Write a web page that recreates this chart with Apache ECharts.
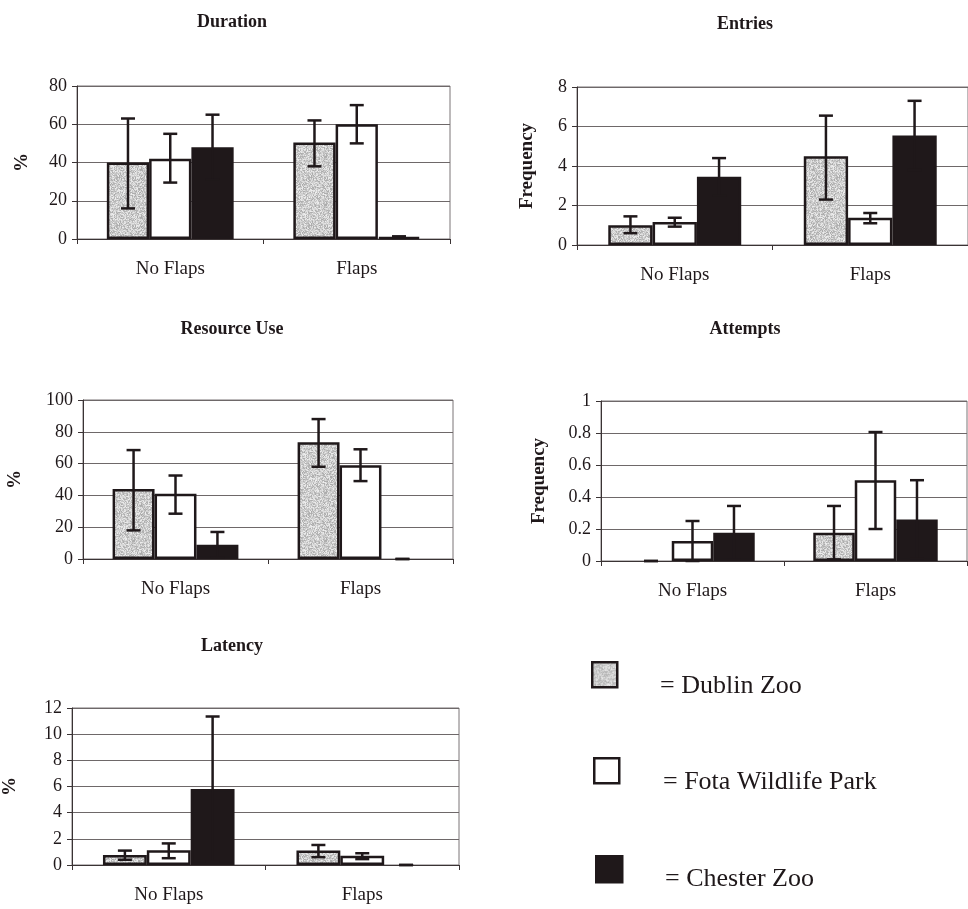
<!DOCTYPE html>
<html>
<head>
<meta charset="utf-8">
<script src="https://cdn.jsdelivr.net/npm/echarts@6/dist/echarts.min.js"></script>
<style>
  html, body { margin: 0; padding: 0; background: #fff; }
  #main { width: 968px; height: 909px; }
</style>
</head>
<body>
<div id="main"></div>
<script>
// categories and groups
var categories = ['No Flaps', 'Flaps'];
var zoos = ['Dublin Zoo', 'Fota Wildlife Park', 'Chester Zoo'];

// one row per zoo: [No Flaps, Flaps]
var durationMean = [[40, 50.5], [42, 60], [48, 1]];
var durationLow  = [[16, 38], [29.5, 50], [31, 0.6]];
var durationHigh = [[63, 62], [55, 70], [65, 1.4]];

var entriesMean = [[1.0, 4.5], [1.17, 1.38], [3.45, 5.55]];
var entriesLow  = [[0.6, 2.3], [0.93, 1.1], [2.5, 3.8]];
var entriesHigh = [[1.45, 6.55], [1.38, 1.62], [4.4, 7.3]];

var resourceMean = [[44, 73.5], [41, 59], [9, 0]];
var resourceLow  = [[18, 58], [28.5, 49], [1, 0]];
var resourceHigh = [[68.5, 88], [52.5, 69], [17, 0]];

var attemptsMean = [[0, 0.177], [0.125, 0.505], [0.177, 0.26]];
var attemptsLow  = [[0, 0.01], [0, 0.2], [0.01, 0.015]];
var attemptsHigh = [[0, 0.344], [0.25, 0.806], [0.344, 0.505]];

var latencyMean = [[0.77, 1.1], [1.12, 0.7], [5.8, 0]];
var latencyLow  = [[0.4, 0.6], [0.52, 0.45], [0.25, 0]];
var latencyHigh = [[1.1, 1.53], [1.65, 0.9], [11.35, 0]];

// tick settings per panel: min, max, step
var durationTicks = [0, 80, 20];
var entriesTicks = [0, 8, 2];
var resourceTicks = [0, 100, 20];
var attemptsTicks = [0, 1, 0.2];
var latencyTicks = [0, 12, 2];

var FONT = '"Liberation Serif", "DejaVu Serif", serif';
var INK = '#1f181a';

// grainy grey fill like the scanned stipple
function stipple() {
    var c = document.createElement('canvas');
    c.width = 48; c.height = 48;
    var ctx = c.getContext('2d');
    var img = ctx.createImageData(48, 48);
    var s = 12345;
    for (var i = 0; i < img.data.length; i += 4) {
        s = (s * 1103515245 + 12345) & 0x7fffffff;
        var g = 170 + (s % 70);
        img.data[i] = g; img.data[i + 1] = g; img.data[i + 2] = g; img.data[i + 3] = 255;
    }
    ctx.putImageData(img, 0, 0);
    return { image: c, repeat: 'repeat' };
}
var grey = stipple();
var fills = [grey, '#ffffff', INK];

var panels = [
    { title: 'Duration', name: '%', mean: durationMean, low: durationLow, high: durationHigh, ticks: durationTicks,
      grid: { left: 77, top: 86, width: 373, height: 153 }, tx: 227, ty: 8, nameGap: 45 },
    { title: 'Entries', name: 'Frequency', mean: entriesMean, low: entriesLow, high: entriesHigh, ticks: entriesTicks,
      grid: { left: 577, top: 87, width: 392, height: 158 }, tx: 740, ty: 10, nameGap: 40 },
    { title: 'Resource Use', name: '%', mean: resourceMean, low: resourceLow, high: resourceHigh, ticks: resourceTicks,
      grid: { left: 83, top: 400, width: 370, height: 159 }, tx: 227, ty: 315, nameGap: 58 },
    { title: 'Attempts', name: 'Frequency', mean: attemptsMean, low: attemptsLow, high: attemptsHigh, ticks: attemptsTicks,
      grid: { left: 601, top: 401, width: 366, height: 160 }, tx: 740, ty: 315, nameGap: 52 },
    { title: 'Latency', name: '%', mean: latencyMean, low: latencyLow, high: latencyHigh, ticks: latencyTicks,
      grid: { left: 71, top: 708, width: 388, height: 157 }, tx: 227, ty: 632, nameGap: 52 }
];

function errorSeries(p, z, low, high) {
    return {
        type: 'custom',
        xAxisIndex: p, yAxisIndex: p,
        z: 5,
        silent: true,
        data: low.map(function (l, i) { return [i, l, high[i]]; }),
        renderItem: function (params, api) {
            var cat = api.value(0);
            var band = api.size([1, 0])[0];
            var bw = band * 0.68 / 3;
            var x = api.coord([cat, 0])[0] + (z - 1) * bw;
            var y1 = api.coord([cat, api.value(1)])[1];
            var y2 = api.coord([cat, api.value(2)])[1];
            var hw = 7;
            var st = { stroke: INK, lineWidth: 2.5 };
            return {
                type: 'group',
                children: [
                    { type: 'line', shape: { x1: x, y1: y1, x2: x, y2: y2 }, style: st },
                    { type: 'line', shape: { x1: x - hw, y1: y1, x2: x + hw, y2: y1 }, style: st },
                    { type: 'line', shape: { x1: x - hw, y1: y2, x2: x + hw, y2: y2 }, style: st }
                ]
            };
        }
    };
}

var option = {
    backgroundColor: '#ffffff',
    animation: false,
    title: [], grid: [], xAxis: [], yAxis: [], series: [],
    graphic: []
};

panels.forEach(function (pn, p) {
    option.title.push({
        text: pn.title, left: pn.tx, top: pn.ty, textAlign: 'center',
        textStyle: { fontFamily: FONT, fontWeight: 'bold', fontSize: 18, color: INK }
    });
    option.grid.push({
        left: pn.grid.left, top: pn.grid.top, width: pn.grid.width, height: pn.grid.height,
        show: true, borderColor: '#7a7576', borderWidth: 1, backgroundColor: 'transparent'
    });
    option.xAxis.push({
        type: 'category', gridIndex: p, data: categories,
        axisLine: { lineStyle: { color: '#3a3334', width: 1 } },
        axisTick: { show: true, length: 5, lineStyle: { color: '#3a3334' } },
        axisLabel: { fontFamily: FONT, fontSize: 19, color: INK, margin: 21 }
    });
    option.yAxis.push({
        type: 'value', gridIndex: p,
        min: pn.ticks[0], max: pn.ticks[1], interval: pn.ticks[2],
        name: pn.name, nameLocation: 'middle', nameGap: pn.nameGap, nameRotate: 90,
        nameTextStyle: { fontFamily: FONT, fontWeight: 'bold', fontSize: 19, color: INK },
        axisLine: { show: true, lineStyle: { color: '#3a3334', width: 1 } },
        axisTick: { show: true, length: 5, lineStyle: { color: '#3a3334' } },
        axisLabel: { fontFamily: FONT, fontSize: 18, color: INK, margin: 10 },
        splitLine: { show: true, lineStyle: { color: '#6e6869', width: 1 } }
    });
    zoos.forEach(function (zn, z) {
        option.series.push({
            type: 'bar', name: zn, xAxisIndex: p, yAxisIndex: p,
            barGap: '0%', barCategoryGap: '32%',
            itemStyle: { color: fills[z], borderColor: INK, borderWidth: 2.5 },
            data: pn.mean[z].map(function (v) {
                return v === 0 ? { value: 0, itemStyle: { borderWidth: 0 } } : v;
            })
        });
    });
    zoos.forEach(function (zn, z) {
        option.series.push(errorSeries(p, z, pn.low[z], pn.high[z]));
    });
});

// legend drawn as boxes with captions
var legendBoxes = [[591, 661, 25], [593, 757, 25], [595, 855, 26]];
var legendText = [[660, 687], [663, 783], [665, 880]];
zoos.forEach(function (zn, z) {
    var b = legendBoxes[z];
    option.graphic.push({
        type: 'rect', left: b[0], top: b[1],
        shape: { width: b[2], height: b[2] },
        style: { fill: fills[z], stroke: INK, lineWidth: 2.5 }
    });
    option.graphic.push({
        type: 'text', left: legendText[z][0], top: legendText[z][1] - 14,
        style: { text: '= ' + zn, font: '26px ' + FONT, fill: INK }
    });
});

var myChart = echarts.init(document.getElementById('main'));
myChart.setOption(option);
</script>
</body>
</html>
